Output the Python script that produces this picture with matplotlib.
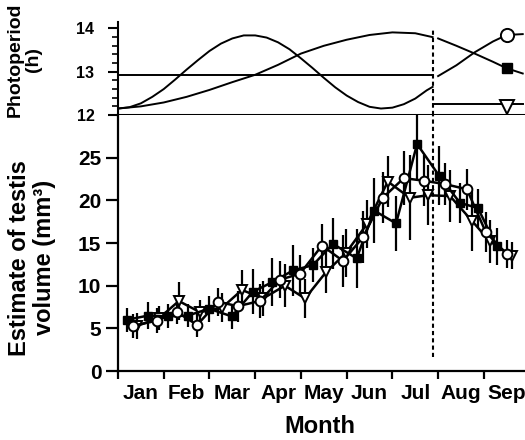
import matplotlib.pyplot as plt

plt.rcParams['font.family'] = ['Liberation Sans', 'DejaVu Sans']
plt.rcParams['font.weight'] = 'bold'

months = ['Jan', 'Feb', 'Mar', 'Apr', 'May', 'Jun', 'Jul', 'Aug', 'Sep']

# photoperiod (h), time in months from 1 Jan
fast_t = [0, 0.25, 0.5, 0.75, 1.0, 1.25, 1.5, 1.75, 2.0, 2.25, 2.5, 2.75, 3.0, 3.25,
          3.5, 3.75, 4.0, 4.25, 4.5, 4.75, 5.0, 5.25, 5.5, 5.75, 6.0, 6.25, 6.5, 6.75, 6.88]
fast_h = [12.15, 12.18, 12.27, 12.42, 12.60, 12.82, 13.05, 13.27, 13.48, 13.65, 13.77, 13.84,
          13.84, 13.79, 13.68, 13.52, 13.31, 13.09, 12.86, 12.64, 12.45, 12.30, 12.19, 12.15,
          12.17, 12.25, 12.38, 12.57, 12.65]
slow_t = [0, 0.5, 1.0, 1.5, 2.0, 2.5, 3.0, 3.5, 4.0, 4.5, 5.0, 5.5, 6.0, 6.5, 6.88]
slow_h = [12.15, 12.20, 12.29, 12.42, 12.58, 12.76, 12.93, 13.16, 13.42, 13.60, 13.74,
          13.85, 13.91, 13.89, 13.80]
const_h = 12.92
switch_t = 6.88

# after the switch
after_t = [7.0, 7.4, 7.8, 8.2, 8.5, 8.85]
after_square = [13.77, 13.60, 13.42, 13.23, 13.08, 12.96]
after_circle = [12.90, 13.15, 13.45, 13.70, 13.85, 13.87]
after_tri_t = [6.88, 8.85]
after_tri = [12.25, 12.25]

# testis volume (mm3)
sq_t = [0.20, 0.66, 1.09, 1.53, 1.99, 2.49, 2.95, 3.37, 3.83, 4.26, 4.70, 5.22, 5.60,
        6.08, 6.54, 7.02, 7.48, 7.87, 8.28]
sq_v = [6.0, 6.5, 6.4, 6.5, 7.3, 6.4, 9.3, 10.4, 11.8, 12.4, 14.9, 13.2, 18.8, 17.3,
        26.6, 22.9, 19.7, 19.1, 14.6]
sq_e = [1.4, 1.6, 1.4, 1.3, 1.5, 1.5, 2.6, 2.8, 3.0, 2.0, 3.0, 3.5, 3.8, 3.2, 4.2,
        3.5, 2.3, 2.2, 2.2]

ci_t = [0.33, 0.85, 1.29, 1.73, 2.19, 2.62, 3.10, 3.54, 3.98, 4.46, 4.92, 5.36, 5.79,
        6.25, 6.69, 7.15, 7.63, 8.04, 8.50]
ci_v = [5.3, 5.9, 6.9, 5.4, 8.1, 7.6, 8.2, 10.7, 11.4, 14.7, 12.9, 15.7, 20.3, 22.6,
        22.3, 21.9, 21.3, 16.3, 13.7]
ci_e = [1.4, 1.5, 1.4, 1.4, 1.6, 1.8, 2.0, 2.2, 2.2, 2.5, 3.0, 3.0, 3.0, 3.2, 3.0,
        2.5, 2.4, 2.3, 1.6]

tr_t = [0.42, 0.90, 1.33, 1.79, 2.27, 2.71, 3.17, 3.65, 4.09, 4.55, 4.98, 5.44, 5.90,
        6.38, 6.78, 7.26, 7.74, 8.13, 8.61]
tr_v = [5.3, 6.2, 8.2, 6.9, 7.4, 9.5, 8.5, 10.0, 8.5, 11.6, 13.8, 17.2, 22.2, 20.3,
        20.6, 20.5, 17.6, 15.2, 13.5]
tr_e = [1.5, 1.4, 2.2, 1.4, 1.7, 2.3, 2.0, 2.5, 2.3, 2.5, 2.8, 2.8, 3.0, 5.0, 3.5,
        3.0, 3.5, 2.5, 1.6]

fig = plt.figure(figsize=(5.25, 4.4), dpi=100)
ax_top = fig.add_axes([0.2248, 0.7386, 0.7752, 0.2114])
ax = fig.add_axes([0.2248, 0.1568, 0.7752, 0.5818])

# top panel: photoperiod schedules
lw = 1.4
ax_top.plot(fast_t, fast_h, color='black', lw=lw)
ax_top.plot(slow_t, slow_h, color='black', lw=lw)
ax_top.plot([0, switch_t], [const_h, const_h], color='black', lw=lw)
ax_top.plot(after_t, after_square, color='black', lw=lw)
ax_top.plot(after_t, after_circle, color='black', lw=lw)
ax_top.plot(after_tri_t, after_tri, color='black', lw=lw)
ax_top.plot([after_t[4]], [after_square[4]], 's', ms=7.5, color='black')
ax_top.plot([after_t[4]], [after_circle[4]], 'o', ms=9.5, mfc='white', mec='black', mew=1.4)
ax_top.plot([8.5], [after_tri[0] - 0.07], 'v', ms=10, mfc='white', mec='black', mew=1.4)
ax_top.plot([switch_t, switch_t], [12, 13.97], color='black', lw=1.5, ls=(0, (2, 1.5)))

ax_top.set_xlim(0, 8.9)
ax_top.set_ylim(12, 14.15)
ax_top.set_yticks([12, 13, 14])
ax_top.set_yticks([12.2, 12.4, 12.6, 12.8, 13.2, 13.4, 13.6, 13.8, 14.0], minor=True)
ax_top.spines['top'].set_visible(False)
ax_top.spines['right'].set_visible(False)
ax_top.spines['left'].set_linewidth(1.5)
ax_top.spines['bottom'].set_linewidth(2.2)
ax_top.tick_params(axis='x', bottom=False, labelbottom=False)
ax_top.tick_params(axis='y', which='major', length=7, width=1.5, labelsize=11.5, pad=10)
ax_top.tick_params(axis='y', which='minor', length=4, width=1.2)
ax_top.patch.set_alpha(0)

# bottom panel: testis volume
ekw = dict(color='black', lw=1.8, elinewidth=1.6, capsize=0)
ax.errorbar(tr_t, tr_v, yerr=tr_e, marker='v', ms=7, mfc='white', mec='black',
            mew=1.4, **ekw)
ax.errorbar(sq_t, sq_v, yerr=sq_e, marker='s', ms=6, mfc='black', mec='black', **ekw)
ax.errorbar(ci_t, ci_v, yerr=ci_e, marker='o', ms=7, mfc='white', mec='black',
            mew=1.4, **ekw)
ax.plot([switch_t, switch_t], [1.6, 30], color='black', lw=1.5, ls=(0, (2, 1.5)))

ax.set_xlim(0, 8.9)
ax.set_ylim(0, 30)
ax.set_yticks([0, 5, 10, 15, 20, 25])
ax.set_xticks(range(9))
ax.set_xticks([m + 0.5 for m in range(9)], minor=True)
ax.set_xticklabels([])
ax.set_xticklabels(months, minor=True)
ax.spines['top'].set_visible(False)
ax.spines['right'].set_visible(False)
ax.spines['left'].set_linewidth(1.6)
ax.spines['bottom'].set_linewidth(1.6)
ax.tick_params(axis='x', which='major', length=6, width=1.6)
ax.tick_params(axis='x', which='minor', length=0, labelsize=15, pad=9)
ax.tick_params(axis='y', length=9, width=1.6, labelsize=15, pad=3)

fig.text(0.046, 0.864, 'Photoperiod\n(h)', rotation=90, ha='center', va='center',
         fontsize=14, linespacing=1.1)
fig.text(0.061, 0.414, 'Estimate of testis\nvolume (mm³)', rotation=90, ha='center',
         va='center', fontsize=17, linespacing=1.1)
fig.text(0.61, 0.03, 'Month', ha='center', va='center', fontsize=17)

fig.savefig('out.png', dpi=100)
